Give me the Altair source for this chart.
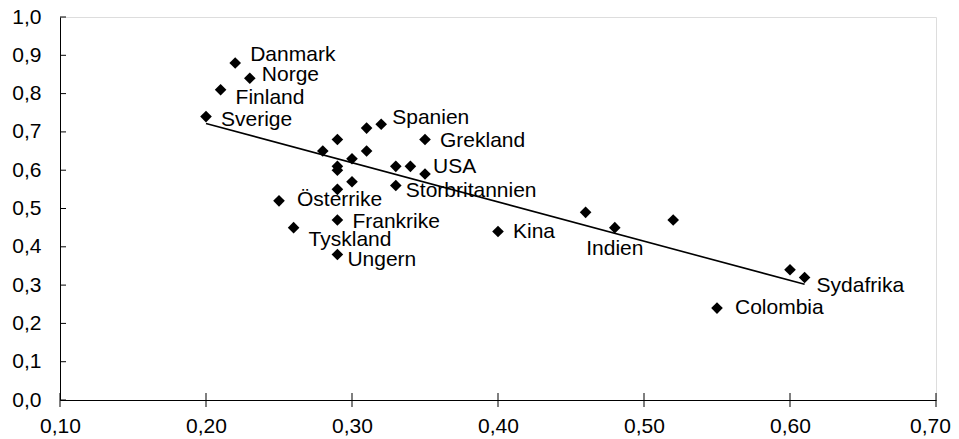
import altair as alt
import pandas as pd

# ---- data ----
names = ["Danmark", "Norge", "Finland", "Sverige", "Spanien", "", "Grekland", "", "", "",
         "", "", "", "", "", "USA", "", "Storbritannien", "", "Österrike",
         "Frankrike", "Tyskland", "Ungern", "Kina", "", "Indien", "", "", "Sydafrika", "Colombia"]
x_vals = [0.22, 0.23, 0.21, 0.20, 0.32, 0.31, 0.35, 0.29, 0.28, 0.31,
          0.30, 0.29, 0.29, 0.33, 0.34, 0.35, 0.30, 0.33, 0.29, 0.25,
          0.29, 0.26, 0.29, 0.40, 0.46, 0.48, 0.52, 0.60, 0.61, 0.55]
y_vals = [0.88, 0.84, 0.81, 0.74, 0.72, 0.71, 0.68, 0.68, 0.65, 0.65,
          0.63, 0.61, 0.60, 0.61, 0.61, 0.59, 0.57, 0.56, 0.55, 0.52,
          0.47, 0.45, 0.38, 0.44, 0.49, 0.45, 0.47, 0.34, 0.32, 0.24]

trend_x = [0.20, 0.61]
trend_y = [0.722, 0.302]

x_ticks = [0.10, 0.20, 0.30, 0.40, 0.50, 0.60, 0.70]
y_ticks = [0.0, 0.1, 0.2, 0.3, 0.4, 0.5, 0.6, 0.7, 0.8, 0.9, 1.0]

# label placement (pixel offsets, style only)
label_style = {
    "Danmark": (15, -8, "left"),
    "Norge": (12, -3, "left"),
    "Finland": (15, 8, "left"),
    "Sverige": (15, 3, "left"),
    "Spanien": (11, -6, "left"),
    "Grekland": (15, 1, "left"),
    "USA": (8, -7, "left"),
    "Storbritannien": (10, 5, "left"),
    "Österrike": (18, -1, "left"),
    "Frankrike": (15, 2, "left"),
    "Tyskland": (15, 12, "left"),
    "Ungern": (10, 6, "left"),
    "Kina": (15, 1, "left"),
    "Indien": (0, 21, "center"),
    "Sydafrika": (12, 9, "left"),
    "Colombia": (18, 0, "left"),
}

FONT = "Liberation Sans"
FS = 21

df = pd.DataFrame({"land": names, "x": x_vals, "y": y_vals})
trend = pd.DataFrame({"x": trend_x, "y": trend_y})
xt = pd.DataFrame({"v": x_ticks})
yt = pd.DataFrame({"v": y_ticks})

xscale = alt.Scale(domain=[0.1, 0.7], nice=False, zero=False)
yscale = alt.Scale(domain=[0.0, 1.0], nice=False)

xaxis = alt.Axis(values=x_ticks, title=None, grid=False, ticks=False,
                 labelExpr="replace(format(datum.value, '.2f'), '.', ',')",
                 labelPadding=15, domainColor="black", labelColor="black",
                 labelFont=FONT, labelFontSize=FS, labelOverlap=False,
                 labelFlush=False, tickCount=7,
                 labelOffset={"condition": {"test": "datum.value > 0.65", "value": -6},
                              "value": 0})
yaxis = alt.Axis(values=y_ticks, title=None, grid=False, ticks=False,
                 labelExpr="replace(format(datum.value, '.1f'), '.', ',')",
                 labelPadding=19, domainColor="black", labelColor="black",
                 labelFont=FONT, labelFontSize=FS, labelOverlap=False,
                 labelFlush=False, tickCount=11)

points = alt.Chart(df).mark_point(shape="diamond", filled=True, color="black",
                                  size=135, opacity=1).encode(
    x=alt.X("x:Q", scale=xscale, axis=xaxis),
    y=alt.Y("y:Q", scale=yscale, axis=yaxis),
)

line = alt.Chart(trend).mark_line(color="black", strokeWidth=1.6).encode(
    x=alt.X("x:Q", scale=xscale, axis=xaxis),
    y=alt.Y("y:Q", scale=yscale, axis=yaxis),
)

xtick_marks = alt.Chart(xt).mark_tick(orient="vertical", size=14, color="black",
                                      thickness=1, opacity=1).encode(
    x=alt.X("v:Q", scale=xscale, axis=xaxis),
    y=alt.datum(0.0, scale=yscale, axis=yaxis),
)

ytick_marks = alt.Chart(yt).mark_tick(orient="horizontal", size=6, xOffset=3,
                                      color="black", thickness=1, opacity=1).encode(
    y=alt.Y("v:Q", scale=yscale, axis=yaxis),
    x=alt.datum(0.1, scale=xscale, axis=xaxis),
)

text_layers = []
for name, (dx, dy, align) in label_style.items():
    t = alt.Chart(df).transform_filter(alt.datum.land == name).mark_text(
        align=align, baseline="middle", dx=dx, dy=dy, font=FONT, fontSize=FS,
        color="black").encode(
        x=alt.X("x:Q", scale=xscale, axis=xaxis),
        y=alt.Y("y:Q", scale=yscale, axis=yaxis),
        text="land:N",
    )
    text_layers.append(t)

chart = alt.layer(line, points, xtick_marks, ytick_marks, *text_layers).properties(
    width=876, height=383,
    autosize=alt.AutoSizeParams(type="none"),
    padding={"left": 52, "top": 9, "right": 15, "bottom": 38},
).configure_view(stroke="#222", strokeWidth=1).configure(background="white")

chart.save("out.html", embed_options={"renderer": "svg", "actions": False})
